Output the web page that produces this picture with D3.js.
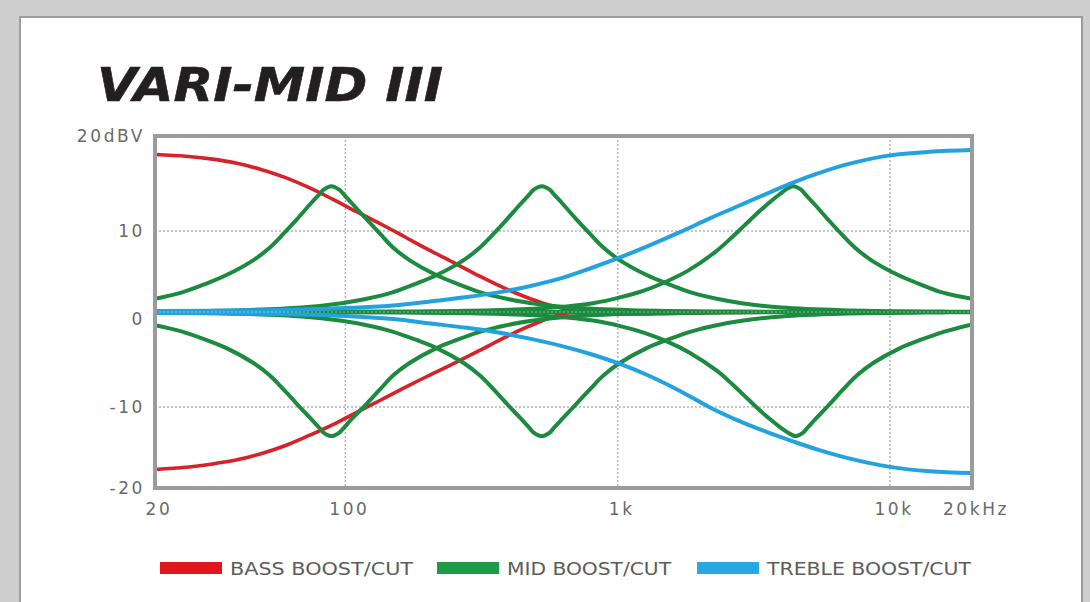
<!DOCTYPE html>
<html>
<head>
<meta charset="utf-8">
<script src="https://cdn.jsdelivr.net/npm/d3@7"></script>
<style>
  html, body { margin: 0; padding: 0; background: #cecece; }
  svg { display: block; }
</style>
</head>
<body>
<svg id="chart"></svg>
<script>

// [Hz, dB]
var bassBoost = [[20,17.9],[26,17.7],[32,17.4],[40,16.9],[49,16.2],[60,15.3],[74,14.1],[90,12.8],[110,11.4],[135,10.0],[165,8.55],[200,7.15],[249,5.65],[310,4.1],[391,2.6],[460,1.7],[532,1.0],[620,0.45],[728,0.05],[1000,-0.2],[1400,-0.2],[2500,-0.05],[20000,0]];
var bassCut   = [[20,-17.9],[26,-17.65],[32,-17.3],[40,-16.8],[49,-16.1],[60,-15.2],[74,-14.0],[90,-12.8],[110,-11.4],[135,-10.0],[165,-8.6],[200,-7.3],[256,-5.7],[310,-4.4],[379,-3.0],[450,-1.9],[505,-1.25],[570,-0.6],[630,-0.2],[800,0.05],[1200,0.05],[20000,0]];

var midBoostLo  = [[20,1.5],[25,2.2],[30.7,3.2],[36.6,4.2],[46,5.9],[52.7,7.3],[59.3,8.9],[66.2,10.5],[74.5,12.3],[80.4,13.4],[83.2,13.9],[89,14.3],[95,13.9],[98.5,13.4],[106,12.3],[120,10.5],[134,8.9],[150,7.3],[172,5.9],[216,4.2],[258,3.2],[316,2.2],[391,1.5],[483,1.0],[677,0.5],[1125,0.2],[2620,0.05],[20000,0]];
var midBoostMid = [[20,0.05],[41.6,0.2],[69.1,0.5],[96.9,1.0],[119.8,1.5],[148,2.2],[181.3,3.2],[216.5,4.2],[272,5.9],[311.4,7.3],[350.4,8.9],[391,10.5],[440.5,12.3],[475,13.4],[491.6,13.9],[526,14.3],[563,13.9],[582,13.4],[628,12.3],[707,10.5],[790,8.9],[888,7.3],[1017,5.9],[1278,4.2],[1527,3.2],[1870,2.2],[2310,1.5],[2855,1.0],[4002,0.5],[6649,0.2],[15485,0.05],[20000,0.03]];
var midBoostHi  = [[20,0],[150,0.05],[349,0.2],[579,0.5],[812,1.0],[1003,1.6],[1239,2.4],[1518,3.5],[1813,4.7],[2278,6.8],[2609,8.4],[2935,9.9],[3276,11.3],[3690,12.7],[3980,13.5],[4118,13.85],[4406,14.3],[4714,13.9],[4877,13.4],[5261,12.3],[5926,10.5],[6613,8.9],[7442,7.3],[8521,5.9],[10707,4.2],[12786,3.2],[15663,2.2],[20000,1.5]];

var midCutLo    = [[20,-1.5],[25,-2.2],[30.7,-3.15],[36.6,-4.1],[46,-5.8],[52.7,-7.2],[59.3,-8.8],[66.2,-10.4],[74.5,-12.1],[80.4,-13.2],[83.2,-13.7],[89,-14.1],[95,-13.7],[98.5,-13.2],[106,-12.1],[120,-10.4],[134,-8.8],[150,-7.2],[172,-5.8],[216,-4.1],[258,-3.15],[316,-2.2],[391,-1.5],[483,-1.0],[677,-0.5],[1125,-0.2],[2620,-0.05],[20000,0]];
var midCutMid   = [[20,-0.05],[41.6,-0.2],[69.1,-0.5],[96.9,-1.0],[119.8,-1.5],[148,-2.2],[181.3,-3.15],[216.5,-4.1],[272,-5.8],[311.4,-7.2],[350.4,-8.8],[391,-10.4],[440.5,-12.1],[475,-13.2],[491.6,-13.7],[526,-14.1],[563,-13.7],[582,-13.2],[628,-12.1],[707,-10.4],[790,-8.8],[888,-7.2],[1017,-5.8],[1278,-4.1],[1527,-3.15],[1870,-2.2],[2310,-1.5],[2855,-1.0],[4002,-0.5],[6649,-0.2],[15485,-0.05],[20000,-0.03]];
var midCutHi    = [[20,0],[152,-0.05],[355,-0.2],[589,-0.5],[826,-1.0],[1021,-1.6],[1261,-2.4],[1544,-3.45],[1844,-4.65],[2318,-6.7],[2654,-8.3],[2986,-9.8],[3332,-11.2],[3754,-12.55],[4049,-13.35],[4189,-13.65],[4482,-14.1],[4796,-13.7],[4962,-13.2],[5352,-12.1],[6028,-10.4],[6728,-8.8],[7570,-7.2],[8668,-5.8],[10891,-4.1],[13007,-3.15],[15934,-2.2],[20000,-1.4]];

var trebleBoost = [[20,0.1],[50,0.2],[100,0.45],[150,0.75],[205,1.2],[280,1.7],[360,2.2],[470,2.9],[630,3.9],[800,5.0],[1020,6.2],[1315,7.6],[1700,9.1],[2200,10.7],[2800,12.1],[3500,13.4],[4400,14.7],[5500,15.8],[7000,16.8],[10000,17.8],[14000,18.2],[20000,18.4]];
var trebleCut   = [[20,-0.1],[50,-0.2],[100,-0.45],[150,-0.8],[205,-1.3],[280,-1.8],[360,-2.3],[470,-3.0],[630,-3.9],[800,-4.8],[1020,-5.9],[1315,-7.3],[1700,-9.0],[2200,-10.9],[2800,-12.4],[3500,-13.6],[4400,-14.7],[5500,-15.7],[7000,-16.6],[10000,-17.6],[14000,-18.1],[20000,-18.3]];

var flat = [[20,0],[20000,0]];

var freqTicks  = [20, 100, 1000, 10000, 20000];
var freqLabels = ['20', '100', '1k', '10k', '20kHz'];
var dbTicks    = [20, 10, 0, -10, -20];
var dbLabels   = ['20dBV', '10', '0', '-10', '-20'];

var legendNames  = ['BASS BOOST/CUT', 'MID BOOST/CUT', 'TREBLE BOOST/CUT'];
var legendColors = ['#e1161f', '#1f9a48', '#27a8e4'];

var red = '#d8222a', green = '#1c8b3f', blue = '#22a3e0';

var width = 1090, height = 602;

var svg = d3.select('#chart')
    .attr('width', width)
    .attr('height', height);

// white card
svg.append('rect')
    .attr('x', 20).attr('y', 17)
    .attr('width', 1062).attr('height', 620)
    .attr('fill', '#fff')
    .attr('stroke', '#9c9c9c')
    .attr('stroke-width', 2);

svg.append('text')
    .attr('x', 97).attr('y', 101)
    .attr('font-family', 'DejaVu Sans')
    .attr('font-weight', 'bold')
    .attr('font-style', 'italic')
    .attr('font-size', 47)
    .attr('fill', '#231f20')
    .attr('stroke', '#231f20')
    .attr('stroke-width', 0.6)
    .attr('textLength', 346)
    .attr('lengthAdjust', 'spacingAndGlyphs')
    .text('VARI-MID III');

var plot = {left: 155, right: 972, top: 136, bottom: 488};

var x = d3.scaleLog()
    .domain([20, 20000])
    .range([plot.left, plot.right]);

var y = d3.scaleLinear()
    .domain([-20, 20])
    .range([plot.bottom, plot.top]);

// grid in the original sits a few px low for +-10
var gridNudge = 7;

var grid = svg.append('g')
    .attr('stroke', '#b4b4b4')
    .attr('stroke-width', 1.5)
    .attr('stroke-dasharray', '2,2');

grid.selectAll('.vgrid')
    .data([100, 1000, 10000])
    .enter()
    .append('line')
      .attr('x1', d => x(d)).attr('x2', d => x(d))
      .attr('y1', plot.top).attr('y2', plot.bottom);

grid.selectAll('.hgrid')
    .data([10, -10])
    .enter()
    .append('line')
      .attr('x1', plot.left).attr('x2', plot.right)
      .attr('y1', d => y(d) + gridNudge).attr('y2', d => y(d) + gridNudge);

svg.append('clipPath')
    .attr('id', 'clip')
  .append('rect')
    .attr('x', plot.left).attr('y', plot.top)
    .attr('width', plot.right - plot.left)
    .attr('height', plot.bottom - plot.top);

var line = d3.line()
    .x(d => x(d[0]))
    .y(d => y(d[1]))
    .curve(d3.curveCatmullRom.alpha(0.5));

var curves = [
  {data: bassBoost, color: red, w: 3.6},
  {data: bassCut, color: red, w: 3.6},
  {data: flat, color: red, w: 3.6},
  {data: flat, color: blue, w: 4},
  {data: midBoostLo, color: green, w: 4},
  {data: midBoostMid, color: green, w: 4},
  {data: midBoostHi, color: green, w: 4},
  {data: midCutLo, color: green, w: 4},
  {data: midCutMid, color: green, w: 4},
  {data: midCutHi, color: green, w: 4},
  {data: flat, color: green, w: 4},
  {data: trebleBoost, color: blue, w: 4},
  {data: trebleCut, color: blue, w: 4}
];

svg.append('g')
    .attr('clip-path', 'url(#clip)')
  .selectAll('path')
    .data(curves)
    .enter()
    .append('path')
      .attr('d', d => line(d.data))
      .attr('fill', 'none')
      .attr('stroke', d => d.color)
      .attr('stroke-width', d => d.w)
      .attr('stroke-linejoin', 'round');

// dotted zero line shows through the bundle
svg.append('line')
    .attr('x1', plot.left).attr('x2', plot.right)
    .attr('y1', y(0)).attr('y2', y(0))
    .attr('stroke', 'rgba(255,255,255,0.45)')
    .attr('stroke-width', 1.2)
    .attr('stroke-dasharray', '2,2');

svg.append('rect')
    .attr('x', plot.left).attr('y', plot.top)
    .attr('width', plot.right - plot.left)
    .attr('height', plot.bottom - plot.top)
    .attr('fill', 'none')
    .attr('stroke', '#9b9b9b')
    .attr('stroke-width', 4);

var tickFont = {family: 'DejaVu Sans', size: 17, fill: '#6a6a6a', spacing: 2.6};

svg.append('g')
  .selectAll('text')
    .data(freqTicks)
    .enter()
    .append('text')
      .attr('x', d => x(d) + 4)
      .attr('y', 515)
      .attr('text-anchor', 'middle')
      .attr('font-family', tickFont.family)
      .attr('font-size', tickFont.size)
      .attr('letter-spacing', tickFont.spacing)
      .attr('fill', tickFont.fill)
      .text((d, i) => freqLabels[i]);

svg.append('g')
  .selectAll('text')
    .data(dbTicks)
    .enter()
    .append('text')
      .attr('x', 145)
      .attr('y', d => y(d) + 6 + (Math.abs(d) < 20 ? gridNudge : 0))
      .attr('text-anchor', 'end')
      .attr('font-family', tickFont.family)
      .attr('font-size', tickFont.size)
      .attr('letter-spacing', tickFont.spacing)
      .attr('fill', tickFont.fill)
      .text((d, i) => dbLabels[i]);

// legend
var legendX = [160, 437, 697];
var legendTextW = [183, 164, 204];

var legend = svg.append('g')
  .selectAll('g')
    .data(legendNames)
    .enter()
    .append('g')
      .attr('transform', (d, i) => 'translate(' + legendX[i] + ',562)');

legend.append('rect')
    .attr('width', 62).attr('height', 12)
    .attr('fill', (d, i) => legendColors[i]);

legend.append('text')
    .attr('x', 70).attr('y', 13)
    .attr('font-family', 'DejaVu Sans Condensed, DejaVu Sans')
    .attr('font-size', 18)
    .attr('fill', '#5c5c5c')
    .attr('textLength', (d, i) => legendTextW[i])
    .attr('lengthAdjust', 'spacingAndGlyphs')
    .text(d => d);

</script>
</body>
</html>
